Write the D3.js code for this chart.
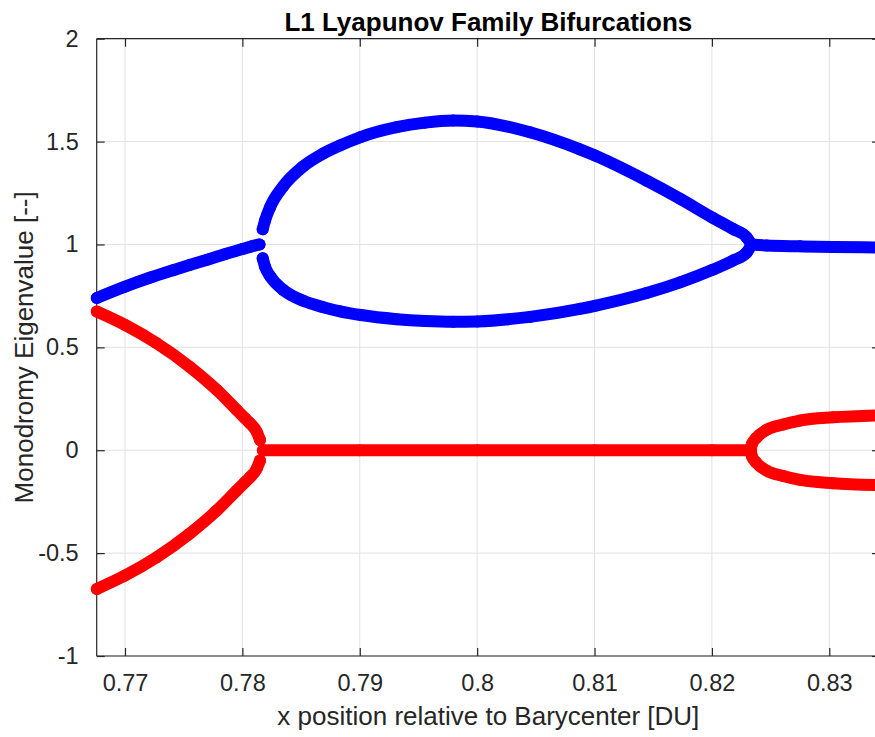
<!DOCTYPE html>
<html>
<head>
<meta charset="utf-8">
<script src="https://cdn.jsdelivr.net/npm/d3@7"></script>
<style>
  html, body { margin: 0; padding: 0; background: #fff; }
  svg { display: block; font-family: "Liberation Sans", Arial, Helvetica, sans-serif; }
</style>
</head>
<body>
<svg id="chart" width="875" height="737"></svg>
<script>
// ---- Axis ticks ----
const xTicks = [0.77, 0.78, 0.79, 0.80, 0.81, 0.82, 0.83];
const xTickLabels = ["0.77", "0.78", "0.79", "0.8", "0.81", "0.82", "0.83"];
const yTicks = [-1, -0.5, 0, 0.5, 1, 1.5, 2];
const yTickLabels = ["-1", "-0.5", "0", "0.5", "1", "1.5", "2"];

// ---- Monodromy eigenvalue branches along the L1 Lyapunov family ----
// Real part (blue) before the first bifurcation
const blueLeftX = [0.7676, 0.7700, 0.7721, 0.7741, 0.7755, 0.7770, 0.7785, 0.7800, 0.7808, 0.78146];
const blueLeftY = [0.740, 0.795, 0.838, 0.875, 0.900, 0.926, 0.953, 0.978, 0.991, 1.000];

// Real reciprocal pair between the two bifurcations
const blueLoopX = [0.78173, 0.78193, 0.78235, 0.78348, 0.78519, 0.78689, 0.78831, 0.79008, 0.79314, 0.79555,
                   0.79796, 0.80001, 0.80450, 0.80876, 0.81004, 0.81444, 0.81729, 0.82006, 0.82181, 0.82295, 0.82337];
const blueUpperY = [1.074, 1.116, 1.180, 1.283, 1.380, 1.442, 1.481, 1.522, 1.570, 1.592,
                    1.602, 1.598, 1.545, 1.462, 1.432, 1.310, 1.222, 1.130, 1.075, 1.035, 1.000];
const blueLowerY = [0.933, 0.892, 0.847, 0.779, 0.726, 0.695, 0.675, 0.657, 0.637, 0.628,
                    0.624, 0.626, 0.648, 0.687, 0.702, 0.764, 0.816, 0.877, 0.922, 0.960, 1.000];

// Real part (blue) after the second bifurcation
const blueRightX = [0.82337, 0.82466, 0.82750, 0.83033, 0.83431];
const blueRightY = [1.000, 0.995, 0.991, 0.988, 0.985];

// Imaginary parts (red) before the first bifurcation
const redLeftX = [0.7676, 0.7700, 0.7727, 0.7755, 0.7778, 0.7795, 0.78022, 0.78065, 0.78122, 0.78150];
const redLeftUpperY = [0.674, 0.609, 0.520, 0.406, 0.294, 0.197, 0.156, 0.131, 0.090, 0.050];
const redLeftLowerY = [-0.674, -0.609, -0.520, -0.406, -0.294, -0.197, -0.156, -0.131, -0.090, -0.050];

// Imaginary part (red) of the real pair
const redZeroX = [0.78175, 0.7900, 0.8000, 0.8100, 0.8200, 0.82330];
const redZeroY = [0, 0, 0, 0, 0, 0];

// Imaginary parts (red) after the second bifurcation
const redRightX = [0.82330, 0.82341, 0.82375, 0.82466, 0.82607, 0.82750, 0.83033, 0.83431];
const redRightUpperY = [0, 0.030, 0.058, 0.099, 0.125, 0.144, 0.160, 0.170];
const redRightLowerY = [0, -0.030, -0.058, -0.099, -0.125, -0.144, -0.160, -0.170];

// ---- Layout ----
const plotLeft = 96.7, plotRight = 880, plotTop = 38.7, plotBottom = 656;
const axisColor = "#262626", gridColor = "#e2e2e2";
const tickFont = 23.5, labelFont = 26;

const svg = d3.select("#chart");

const x = d3.scaleLinear().domain([0.767589, 0.834319]).range([plotLeft, plotRight]);
const y = d3.scaleLinear().domain([-1, 2]).range([plotBottom, plotTop]);

// Grid
const grid = svg.append("g");
grid.selectAll("line.gx").data(xTicks).join("line").attr("class", "gx")
  .attr("x1", d => x(d)).attr("x2", d => x(d))
  .attr("y1", plotTop).attr("y2", plotBottom)
  .attr("stroke", gridColor).attr("stroke-width", 1);
grid.selectAll("line.gy").data(yTicks).join("line").attr("class", "gy")
  .attr("y1", d => y(d)).attr("y2", d => y(d))
  .attr("x1", plotLeft).attr("x2", plotRight)
  .attr("stroke", gridColor).attr("stroke-width", 1);

// Axes via d3 (ticks drawn inward)
const tickLen = 8;
const xAxisBottom = d3.axisBottom(x).tickValues(xTicks).tickSize(-tickLen).tickPadding(tickLen + 10)
  .tickFormat((d, i) => xTickLabels[i]);
const xAxisTop = d3.axisTop(x).tickValues(xTicks).tickSize(-tickLen).tickFormat("");
const yAxisLeft = d3.axisLeft(y).tickValues(yTicks).tickSize(-tickLen).tickPadding(tickLen + 10)
  .tickFormat((d, i) => yTickLabels[i]);
const yAxisRight = d3.axisRight(y).tickValues(yTicks).tickSize(-tickLen).tickFormat("");

function styleAxis(g) {
  g.select(".domain").attr("stroke", axisColor).attr("stroke-width", 1.2);
  g.selectAll(".tick line").attr("stroke", axisColor).attr("stroke-width", 1.2);
  g.selectAll(".tick text").attr("fill", axisColor).attr("font-size", tickFont)
    .attr("font-family", '"Liberation Sans", Arial, Helvetica, sans-serif');
}
const axes = svg.append("g");
axes.append("g").attr("transform", `translate(0,${plotBottom})`).call(xAxisBottom).call(styleAxis)
  .call(g => g.select(".domain").attr("d", `M${plotLeft},0H${plotRight}`));
axes.append("g").attr("transform", `translate(0,${plotTop})`).call(xAxisTop).call(styleAxis)
  .call(g => g.select(".domain").attr("d", `M${plotLeft},0H${plotRight}`));
axes.append("g").attr("transform", `translate(${plotLeft},0)`).call(yAxisLeft).call(styleAxis)
  .call(g => g.select(".domain").attr("d", `M0,${plotTop}V${plotBottom}`));
axes.append("g").attr("transform", `translate(${plotRight},0)`).call(yAxisRight).call(styleAxis)
  .call(g => g.select(".domain").attr("d", `M0,${plotTop}V${plotBottom}`));

// ---- Data branches: thick marker trail plus filled circle markers ----
const markerR = 6;
const trail = d3.line().x(d => x(d[0])).y(d => y(d[1])).curve(d3.curveMonotoneX);

function branch(xs, ys, color) {
  const pts = xs.map((v, i) => [v, ys[i]]);
  const g = svg.append("g");
  g.append("path").datum(pts).attr("d", trail)
    .attr("fill", "none").attr("stroke", color).attr("stroke-width", markerR * 2)
    .attr("stroke-linecap", "round").attr("stroke-linejoin", "round");
  g.selectAll("circle").data(pts).join("circle")
    .attr("cx", d => x(d[0])).attr("cy", d => y(d[1])).attr("r", markerR)
    .attr("fill", color);
}

const blue = "#0000ff", red = "#ff0000";
branch(blueLeftX, blueLeftY, blue);
branch(blueLoopX, blueUpperY, blue);
branch(blueLoopX, blueLowerY, blue);
branch(blueRightX, blueRightY, blue);
branch(redLeftX, redLeftUpperY, red);
branch(redLeftX, redLeftLowerY, red);
branch(redZeroX, redZeroY, red);
branch(redRightX, redRightUpperY, red);
branch(redRightX, redRightLowerY, red);

// ---- Titles ----
const cx = (plotLeft + plotRight) / 2;
svg.append("text").attr("x", cx).attr("y", 31).attr("text-anchor", "middle")
  .attr("font-size", 26).attr("font-weight", "bold").attr("fill", "#000")
  .text("L1 Lyapunov Family Bifurcations");
svg.append("text").attr("x", cx).attr("y", 725).attr("text-anchor", "middle")
  .attr("font-size", labelFont).attr("fill", axisColor)
  .text("x position relative to Barycenter [DU]");
svg.append("text").attr("transform", `translate(33,${(plotTop + plotBottom) / 2}) rotate(-90)`)
  .attr("text-anchor", "middle").attr("font-size", labelFont).attr("fill", axisColor)
  .text("Monodromy Eigenvalue [--]");
</script>
</body>
</html>
